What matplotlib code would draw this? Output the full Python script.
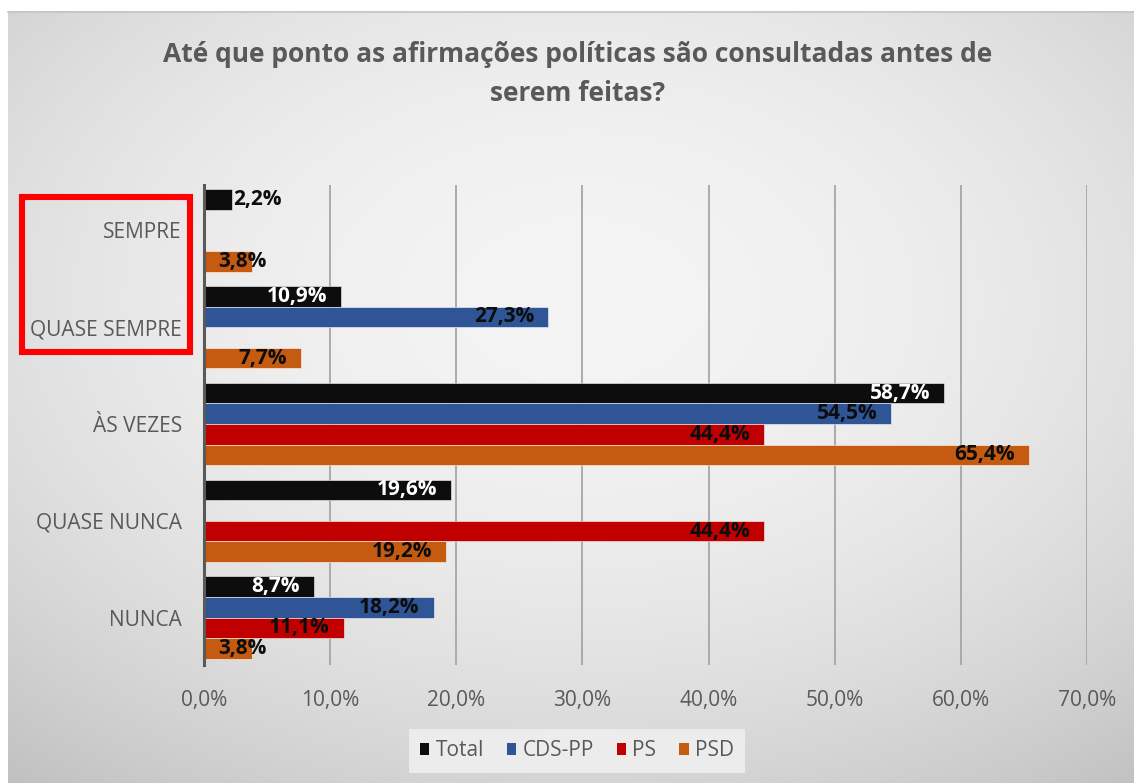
import numpy as np
import matplotlib
matplotlib.use("Agg")
import matplotlib.pyplot as plt
from matplotlib import font_manager
from matplotlib.patches import Rectangle, Patch
from matplotlib.ticker import FuncFormatter

# ---- data -------------------------------------------------------------
categories = ["SEMPRE", "QUASE SEMPRE", "ÀS VEZES", "QUASE NUNCA", "NUNCA"]
series_names = ["Total", "CDS-PP", "PS", "PSD"]
total = [2.2, 10.9, 58.7, 19.6, 8.7]
cds_pp = [np.nan, 27.3, 54.5, np.nan, 18.2]
ps = [np.nan, np.nan, 44.4, 44.4, 11.1]
psd = [3.8, 7.7, 65.4, 19.2, 3.8]
x_ticks = [0, 10, 20, 30, 40, 50, 60, 70]
title = "Até que ponto as afirmações políticas são consultadas antes de\nserem feitas?"

series_values = [total, cds_pp, ps, psd]
series_colors = ["#0d0d0d", "#2f5597", "#c00000", "#c55a11"]
label_colors = ["#ffffff", "#0d0d0d", "#0d0d0d", "#0d0d0d"]

# ---- fonts ------------------------------------------------------------
available = {f.name for f in font_manager.fontManager.ttflist}
family = next(f for f in ["Liberation Sans Narrow", "Open Sans", "DejaVu Sans"]
              if f in available)
plt.rcParams["font.family"] = [family, "DejaVu Sans"]

W, H = 1134, 783
fig = plt.figure(figsize=(W / 100, H / 100), dpi=100)

# ---- background: soft radial grey gradient ---------------------------
bg = fig.add_axes([0, 0, 1, 1], zorder=-10)
yy, xx = np.mgrid[0:H, 0:W]
dx = (xx - 580) / 570.0
dy = (yy - 300) / 420.0
val = 244 - 20 * dx ** 2 - 24 * dy ** 2
img = np.clip(val, 0, 255) / 255.0
img[:11, :] = 1.0
img[:, :8] = 1.0
bg.imshow(np.dstack([img, img, img]), extent=(0, W, H, 0), aspect="auto",
          interpolation="bilinear")
bg.plot([8, W], [11.5, 11.5], color="#c4c4c4", lw=1.2)
bg.add_patch(Rectangle((22, 197), 168, 155, fill=False,
                       edgecolor="#ff0000", lw=4.4))
bg.set_xlim(0, W)
bg.set_ylim(H, 0)
bg.axis("off")

# ---- main chart -------------------------------------------------------
ax = fig.add_axes([204 / W, 1 - 665 / H, 883 / W, 480 / H])
ax.patch.set_alpha(0)

y = np.arange(len(categories))
h = 0.213
for i, (vals, color) in enumerate(zip(series_values, series_colors)):
    ax.barh(y + (i - 1.5) * h, vals, height=h, color=color,
            edgecolor=(1, 1, 1, 0.55), linewidth=0.7, zorder=3,
            label=series_names[i])

ax.set_xlim(0, 70)
ax.set_ylim(4.49, -0.47)
ax.set_xticks(x_ticks)
ax.xaxis.set_major_formatter(FuncFormatter(lambda v, p: f"{v:.1f}".replace(".", ",") + "%"))
ax.set_yticks(y)
ax.set_yticklabels(categories)
ax.tick_params(axis="both", length=0, colors="#595959", labelsize=15)
ax.tick_params(axis="x", pad=18)
ax.tick_params(axis="y", pad=16)
ax.xaxis.grid(True, color="#a6a6a6", lw=1.3, zorder=0)
ax.set_axisbelow(True)
for side in ["top", "right", "bottom"]:
    ax.spines[side].set_visible(False)
ax.spines["left"].set_color("#595959")
ax.spines["left"].set_linewidth(2.2)
ax.spines["left"].set_zorder(4)

# ---- data labels ------------------------------------------------------
fig.canvas.draw()
renderer = fig.canvas.get_renderer()
px_per_unit = ax.transData.transform((1, 0))[0] - ax.transData.transform((0, 0))[0]
pad = 14 / px_per_unit
for i, (vals, lc) in enumerate(zip(series_values, label_colors)):
    for j, v in enumerate(vals):
        if np.isnan(v):
            continue
        yy_ = y[j] + (i - 1.5) * h
        txt = f"{v:.1f}".replace(".", ",") + "%"
        t = ax.text(v - pad, yy_, txt, ha="right", va="center", fontsize=15,
                    fontweight="bold", color=lc, zorder=5)
        w_units = t.get_window_extent(renderer).width / px_per_unit
        if v < 3:
            t.set_x(v + 0.15)
            t.set_ha("left")
            t.set_color("#0d0d0d")
        elif v - pad - w_units < pad:
            t.set_x(pad)
            t.set_ha("left")

# ---- title ------------------------------------------------------------
fig.text(578 / W, 1 - 74 / H, title, ha="center", va="center", fontsize=19,
         fontweight="bold", color="#595959", linespacing=1.58)

# ---- legend -----------------------------------------------------------
handles = [Patch(facecolor=c, edgecolor="none") for c in series_colors]
leg = fig.legend(handles, series_names, loc="center",
                 bbox_to_anchor=(577 / W, 1 - 751 / H), ncol=4, frameon=True,
                 fancybox=False, facecolor="#ececec", edgecolor="none",
                 framealpha=1, fontsize=15, handlelength=0.45, handleheight=0.45,
                 handletextpad=0.3, columnspacing=1.1, borderpad=0.55)
for txt in leg.get_texts():
    txt.set_color("#595959")

fig.savefig("out.png", dpi=100)
